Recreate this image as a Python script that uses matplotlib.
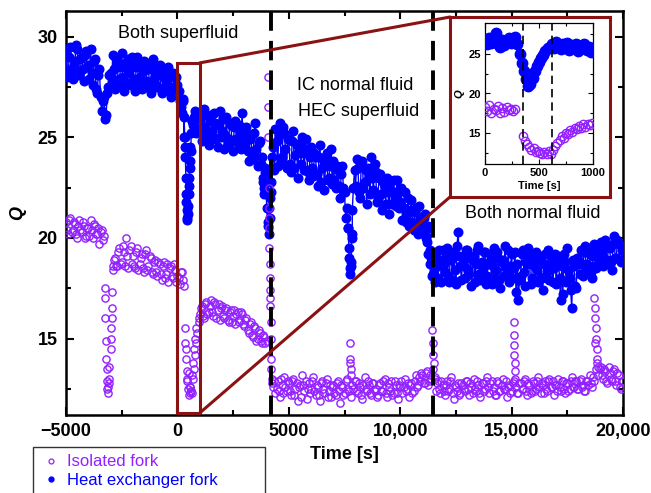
import matplotlib
matplotlib.use("Agg")
import matplotlib.pyplot as plt
from matplotlib.patches import Rectangle, ConnectionPatch
from matplotlib.lines import Line2D
import numpy as np

plt.rcParams['font.family'] = ['Liberation Sans', 'DejaVu Sans']

# ---------------- data ----------------
# main series, first pass sampled every 100 s from -5000 s to 20000 s
main_t = list(range(-5000, 20001, 100))
# second pass, offset by 50 s
main_t2 = list(range(-4950, 20000, 100))

blue_q = [
    29.2, 28.3, 29.5, 27.9, 28.8, 29.4, 28.1, 29.0, 27.8, 29.3,   # -5000
    28.6, 29.4, 27.6, 28.9, 27.2, 28.4, 26.3, 27.0, 26.1, 27.5,   # -4000
    28.2, 29.1, 27.4, 28.7, 27.9, 29.2, 27.3, 28.5, 28.9, 27.6,   # -3000
    28.6, 27.3, 29.0, 28.0, 27.4, 28.8, 27.8, 28.4, 27.2, 28.9,   # -2000
    28.1, 27.5, 28.6, 27.2, 28.3, 27.7, 28.5, 27.0, 28.2, 27.4,   # -1000
    27.6, 26.8, 26.2, 25.0, 21.8, 22.6, 24.3, 25.6, 26.3, 25.4,   # 0
    25.9, 24.8, 26.4, 25.2, 24.6, 26.1, 25.0, 25.7, 24.5, 26.3,   # 1000
    25.3, 24.4, 26.0, 24.9, 25.6, 24.3, 25.8, 24.7, 25.2, 26.2,   # 2000
    24.6, 25.5, 23.8, 25.1, 24.2, 25.7, 23.6, 24.8, 24.0, 22.5,   # 3000
    23.2, 21.5, 22.8, 24.5, 25.4, 23.6, 25.7, 24.0, 25.2, 23.5,   # 4000
    24.9, 23.3, 25.3, 24.1, 23.0, 24.7, 25.0, 23.4, 24.4, 22.9,   # 5000
    24.5, 23.1, 24.0, 22.6, 24.6, 23.5, 22.4, 24.2, 23.0, 24.4,   # 6000
    23.8, 22.5, 23.4, 22.0, 23.6, 22.3, 21.5, 19.5, 18.6, 22.5,   # 7000
    22.6, 23.5, 22.0, 23.8, 22.8, 21.7, 23.2, 24.0, 22.4, 23.3,   # 8000
    22.0, 23.2, 21.4, 22.6, 23.0, 21.2, 22.4, 22.9, 21.6, 22.3,   # 9000
    21.8, 20.9, 22.3, 21.2, 20.6, 21.9, 20.4, 21.5, 20.2, 21.0,   # 10000
    20.3, 21.2, 19.8, 20.5, 19.0, 18.4, 19.3, 18.0, 18.9, 19.4,   # 11000
    18.3, 19.5, 17.8, 18.9, 19.2, 17.7, 20.3, 18.6, 19.0, 18.0,   # 12000
    19.4, 18.2, 17.6, 19.1, 18.7, 19.6, 17.9, 18.5, 19.3, 18.1,   # 13000
    18.8, 17.7, 19.5, 18.4, 19.0, 17.5, 18.9, 19.6, 18.2, 17.8,   # 14000
    19.2, 18.5, 17.3, 16.9, 18.1, 19.4, 17.6, 18.7, 19.1, 18.0,   # 15000
    18.6, 19.3, 17.8, 18.9, 17.4, 19.2, 18.3, 17.9, 19.0, 18.5,   # 16000
    17.7, 19.1, 16.9, 17.2, 18.8, 19.5, 18.0, 16.5, 18.6, 17.5,   # 17000
    18.9, 19.4, 18.1, 19.6, 18.7, 19.2, 18.0, 19.7, 18.5, 19.3,   # 18000
    19.8, 18.6, 19.9, 18.9, 19.5, 18.4, 20.1, 19.0, 19.7, 18.8,   # 19000
    19.6,                                                         # 20000
]
blue_q2 = [
    28.0, 29.0, 28.4, 28.6, 29.6, 28.2, 28.9, 28.4, 29.1, 28.5,   # -4950
    27.9, 28.2, 28.8, 27.4, 28.1, 27.0, 26.8, 25.9, 27.2, 28.1,   # -3950
    27.8, 28.4, 28.9, 27.6, 28.5, 28.0, 28.7, 27.7, 28.2, 29.0,   # -2950
    27.9, 28.5, 27.6, 28.7, 28.3, 27.5, 28.4, 27.6, 28.6, 27.9,   # -1950
    27.6, 28.4, 27.4, 28.0, 27.5, 28.4, 27.3, 28.0, 27.5, 28.0,   # -950
    27.3, 26.5, 26.8, 24.5, 21.0, 23.5, 25.8, 26.0, 25.2, 26.0,   # 50
    25.3, 26.1, 25.5, 24.9, 25.8, 25.3, 26.2, 24.9, 25.6, 25.0,   # 1050
    25.9, 25.1, 24.6, 25.7, 24.8, 25.5, 24.9, 25.6, 24.4, 25.0,   # 2050
    25.3, 24.3, 24.9, 23.9, 25.2, 24.4, 24.7, 23.7, 22.8, 23.3,   # 3050
    20.8, 22.0, 24.0, 23.4, 24.8, 25.1, 23.8, 25.5, 24.4, 24.9,   # 4050
    23.7, 24.8, 23.5, 24.6, 24.3, 23.7, 24.2, 24.9, 23.3, 24.0,   # 5050
    23.5, 24.2, 23.2, 24.0, 22.8, 23.9, 23.8, 22.9, 23.6, 22.7,   # 6050
    22.9, 23.6, 22.6, 23.2, 22.5, 21.0, 20.5, 18.5, 20.0, 23.4,   # 7050
    23.9, 22.3, 23.6, 22.5, 23.4, 23.5, 22.2, 23.0, 23.7, 21.8,   # 8050
    23.0, 22.2, 22.8, 21.7, 22.3, 22.8, 21.7, 22.0, 22.9, 21.5,   # 9050
    22.5, 21.5, 20.8, 22.0, 21.4, 20.8, 21.3, 20.6, 21.6, 20.6,   # 10050
    21.0, 20.1, 20.6, 19.4, 18.2, 17.8, 18.6, 19.4, 17.8, 18.7,   # 11050
    19.0, 18.1, 19.3, 17.9, 18.4, 19.6, 19.1, 17.9, 18.6, 19.4,   # 12050
    18.4, 19.0, 18.9, 17.8, 19.4, 18.2, 18.8, 19.3, 17.7, 18.7,   # 13050
    19.2, 18.6, 18.0, 19.3, 17.9, 18.8, 18.1, 18.5, 19.4, 18.6,   # 14050
    18.0, 19.3, 18.7, 17.9, 19.2, 18.3, 18.8, 19.5, 17.7, 18.9,   # 15050
    17.9, 18.4, 19.1, 18.0, 18.7, 18.1, 19.4, 18.6, 17.8, 19.2,   # 16050
    18.8, 18.0, 18.6, 19.2, 17.8, 18.4, 17.4, 18.9, 17.6, 19.0,   # 17050
    18.2, 18.7, 19.3, 18.4, 19.5, 18.3, 19.1, 18.6, 19.6, 18.9,   # 18050
    19.2, 19.5, 18.7, 19.6, 18.8, 19.7, 19.0, 19.9, 18.9, 19.4,   # 19050
]

purple_q = [
    20.8, 20.2, 21.0, 20.4, 20.7, 20.0, 20.9, 20.3, 20.6, 20.1,   # -5000
    20.5, 20.9, 20.0, 20.6, 20.2, 19.7, 20.4, 20.1, 14.0, 12.6,   # -4000
    15.0, 18.4, 19.0, 18.6, 19.5, 18.8, 19.3, 20.0, 18.5, 19.6,   # -3000
    19.1, 18.5, 19.5, 18.7, 19.2, 18.3, 19.4, 18.6, 19.0, 18.2,   # -2000
    18.9, 18.1, 18.7, 17.9, 18.8, 18.2, 17.8, 18.6, 18.0, 18.4,   # -1000
    18.1, 17.7, 18.3, 17.6, 14.5, 13.3, 12.4, 13.0, 14.2, 15.3,   # 0
    16.2, 16.6, 16.0, 16.8, 16.3, 16.9, 16.1, 16.7, 16.4, 15.9,   # 1000
    16.6, 16.0, 16.5, 15.8, 16.4, 16.1, 15.7, 16.3, 15.9, 16.2,   # 2000
    15.6, 16.0, 15.3, 15.8, 15.1, 15.5, 15.0, 15.3, 14.8, 15.1,   # 3000
    14.9, 21.0, 14.0, 12.6, 12.3, 12.9, 12.1, 12.7, 13.1, 12.4,   # 4000
    12.8, 12.2, 13.0, 12.5, 11.9, 12.7, 13.2, 12.4, 12.0, 12.8,   # 5000
    12.5, 13.1, 12.2, 12.6, 11.9, 12.9, 12.3, 13.0, 12.4, 12.1,   # 6000
    12.7, 12.2, 12.9, 11.8, 12.6, 12.3, 13.0, 12.4, 12.1, 12.5,   # 7000
    12.9, 12.3, 12.6, 12.0, 13.1, 12.4, 12.7, 12.2, 12.8, 12.5,   # 8000
    12.2, 12.8, 12.4, 13.0, 12.1, 12.6, 12.9, 12.3, 12.7, 12.0,   # 9000
    12.6, 12.3, 13.0, 12.5, 12.1, 12.8, 12.4, 13.2, 12.7, 12.9,   # 10000
    13.2, 12.8, 13.4, 12.9, 13.0, 13.8, 12.4, 12.9, 12.3, 12.7,   # 11000
    12.2, 12.9, 12.5, 13.1, 12.0, 12.6, 12.8, 12.3, 12.7, 12.4,   # 12000
    12.9, 12.2, 12.6, 13.0, 12.4, 12.7, 12.1, 12.8, 12.5, 13.1,   # 13000
    12.3, 12.9, 12.6, 12.2, 12.8, 12.4, 13.0, 12.5, 12.1, 12.7,   # 14000
    12.4, 12.9, 12.6, 12.3, 12.8, 12.5, 13.0, 12.2, 12.7, 12.4,   # 15000
    12.8, 12.5, 13.1, 12.3, 12.7, 12.9, 12.4, 13.0, 12.6, 12.2,   # 16000
    12.7, 13.0, 12.4, 12.9, 12.3, 12.8, 12.5, 13.1, 12.6, 12.9,   # 17000
    12.5, 13.0, 12.7, 12.4, 12.9, 13.2, 12.6, 12.9, 13.5, 13.2,   # 18000
    13.6, 13.0, 13.4, 12.8, 13.3, 12.9, 13.5, 12.7, 13.2, 12.5,   # 19000
    12.9,                                                         # 20000
]
purple_q2 = [
    20.4, 20.9, 20.3, 20.8, 20.2, 20.6, 20.4, 20.8, 20.0, 20.5,   # -4950
    20.1, 20.4, 20.7, 20.2, 20.5, 20.3, 19.9, 17.0, 12.5, 13.0,   # -3950
    16.0, 18.9, 18.6, 19.3, 18.7, 19.6, 18.6, 19.1, 19.4, 18.7,   # -2950
    18.6, 19.3, 18.4, 19.0, 18.5, 19.2, 18.4, 19.1, 18.3, 18.8,   # -1950
    18.3, 18.8, 18.2, 18.6, 18.0, 18.7, 18.5, 18.1, 18.7, 17.8,   # -950
    18.0, 18.3, 17.9, 15.5, 13.0, 12.6, 12.3, 13.5, 14.8, 15.8,   # 50
    16.5, 16.1, 16.7, 16.2, 16.6, 16.3, 16.8, 16.0, 16.7, 16.5,   # 1050
    16.1, 16.4, 15.9, 16.3, 15.8, 16.4, 16.2, 15.8, 16.3, 15.7,   # 2050
    15.9, 15.4, 15.7, 15.2, 15.6, 14.9, 15.4, 14.9, 15.2, 14.8,   # 3050
    26.5, 17.0, 12.8, 12.9, 12.5, 12.4, 13.0, 12.3, 12.6, 12.9,   # 4050
    12.4, 12.9, 12.2, 12.8, 12.6, 12.1, 12.7, 12.9, 12.5, 12.3,   # 5050
    12.9, 12.4, 12.7, 12.2, 12.8, 12.5, 12.8, 12.1, 12.7, 12.6,   # 6050
    12.3, 12.8, 12.4, 12.7, 12.2, 12.9, 12.5, 13.8, 12.7, 12.9,   # 7050
    12.4, 12.8, 12.2, 12.7, 12.5, 12.9, 12.3, 12.8, 12.4, 12.1,   # 8050
    12.7, 12.4, 12.9, 12.3, 12.8, 12.4, 12.2, 12.9, 12.3, 12.7,   # 9050
    12.9, 12.6, 12.4, 12.8, 12.7, 12.3, 12.9, 12.6, 13.1, 13.3,   # 10050
    12.8, 13.3, 12.7, 13.2, 13.5, 13.0, 12.8, 12.5, 12.9, 12.4,   # 11050
    12.7, 12.4, 12.9, 12.3, 12.7, 12.4, 12.2, 12.8, 12.5, 12.9,   # 12050
    12.5, 12.8, 12.3, 12.5, 12.9, 12.3, 12.8, 12.4, 12.9, 12.6,   # 13050
    12.8, 12.4, 12.2, 12.9, 12.4, 12.7, 12.5, 12.9, 12.6, 12.3,   # 14050
    12.8, 13.0, 12.3, 12.8, 12.5, 12.9, 12.4, 12.8, 12.3, 12.9,   # 15050
    12.4, 12.9, 12.6, 12.8, 12.3, 12.5, 12.9, 12.6, 12.9, 12.7,   # 16050
    12.4, 12.6, 12.9, 12.5, 12.8, 12.4, 12.9, 12.6, 12.9, 12.5,   # 17050
    12.9, 12.6, 12.4, 12.9, 12.7, 12.8, 13.1, 14.8, 13.8, 13.5,   # 18050
    13.2, 13.5, 12.9, 13.6, 13.0, 13.4, 12.9, 13.3, 12.6, 12.9,   # 19050
]

# extra samples in fast transients (dips and spikes)
blue_extra_t = [250, 300, 330, 360, 380, 400, 420, 440, 460, 480, 520, 540, 560, 580, 620, 650,
                3850, 3900, 3950, 4000, 4050, 4100, 4150, 4200, 4250,
                7650, 7700, 7750, 7780, 7820, 7850,
                11150, 11250, 11350, 11420, 11480]
blue_extra_q = [26.9, 26.0, 25.0, 24.0, 23.0, 22.2, 21.4, 20.9, 21.2, 21.6, 22.2, 23.0, 23.8, 24.5, 25.2, 25.8,
                23.0, 22.2, 23.5, 21.5, 20.6, 20.2, 21.0, 22.3, 23.5,
                20.5, 19.0, 18.2, 18.8, 20.2, 21.4,
                20.0, 19.2, 18.7, 18.1, 19.0]

purple_extra_t = [-3250, -3230, -3210, -3180, -3150, -3120, -3080, -3050, -3000, -2970, -2950, -2930, -2880,
                  350, 380, 420, 450, 480, 520, 550, 580, 620, 660, 700, 750, 800, 850, 950,
                  4050, 4080, 4100, 4110, 4120, 4130, 4140, 4150, 4160, 4170, 4180, 4190, 4220, 4240,
                  7740, 7760, 7780, 7800,
                  11430, 11450, 11470, 11550,
                  15100, 15110, 15120, 15130, 15140, 15160,
                  18720, 18740, 18760, 18780, 18800, 18820, 18840, 18860]
purple_extra_q = [17.5, 16.0, 14.9, 13.5, 12.9, 12.3, 12.8, 13.6, 14.5, 15.5, 16.5, 17.3, 18.6,
                  14.8, 14.0, 13.4, 12.9, 12.5, 12.2, 12.6, 12.3, 12.4, 13.2, 13.8, 14.5, 15.0, 15.5, 16.0,
                  28.0, 25.0, 22.5, 21.5, 20.5, 19.5, 18.7, 18.0, 17.4, 16.6, 15.8, 15.0, 13.5, 13.0,
                  14.8, 14.0, 13.5, 13.2,
                  15.4, 14.8, 14.2, 13.1,
                  15.8, 15.2, 14.7, 14.2, 13.8, 13.4,
                  17.0, 16.5, 16.0, 15.5, 15.0, 14.5, 14.0, 13.6]

# inset (zoom on 0-1000 s)
inset_blue_t = list(range(0, 1001, 20))
inset_blue_q = [26.8, 26.2, 27.0, 26.4, 26.9, 27.6, 26.3, 25.9, 26.7, 26.1, 26.5, 27.0, 26.4, 26.8, 27.1,
                26.2, 25.0, 23.8, 22.8, 21.8, 21.0, 21.2, 22.0, 22.8, 23.5, 24.0, 24.5, 24.9, 25.4, 25.8, 25.9,
                26.2, 25.8, 26.5, 26.0, 25.6, 26.3, 25.9, 26.4, 25.5, 26.1, 25.8, 26.3, 25.4, 26.0, 25.7,
                26.2, 25.5, 25.9, 25.3, 25.8]
inset_purple_t = [0, 20, 40, 60, 80, 100, 120, 140, 160, 180, 200, 220, 240, 260, 280,
                  350, 370, 390, 410, 430, 450, 470, 490, 510, 530, 550, 570, 590, 610,
                  630, 650, 670, 690, 710, 730, 750, 770, 790, 810, 830, 850, 870, 890, 910, 930, 950, 970, 990]
inset_purple_q = [18.3, 17.8, 18.5, 17.6, 18.1, 17.9, 18.4, 17.5, 18.2, 17.7, 18.3, 17.9, 18.1, 17.8, 18.0,
                  14.6, 14.0, 13.6, 13.2, 12.9, 13.1, 12.6, 12.8, 12.5, 12.3, 12.6, 12.4, 12.7, 12.3,
                  12.9, 13.4, 13.8, 14.1, 14.6, 14.4, 15.0, 14.9, 15.4, 15.2, 15.7, 15.5, 15.9, 15.7, 16.1,
                  15.8, 16.2, 16.0, 16.3]

transitions = [4200, 11450]
inset_transitions = [350, 620]

x_ticks = [-5000, 0, 5000, 10000, 15000, 20000]
x_tick_labels = ['\u22125000', '0', '5000', '10,000', '15,000', '20,000']
y_ticks = [15, 20, 25, 30]

series_labels = ['Isolated fork', 'Heat exchanger fork']

BLUE = '#0000ff'
PURPLE = '#9320ff'
DARKRED = '#8b1212'

# merge all samples of each series in time order
bt = np.array(main_t + main_t2 + blue_extra_t)
bq = np.array(blue_q + blue_q2 + blue_extra_q)
o = np.argsort(bt, kind='stable'); bt, bq = bt[o], bq[o]
pt = np.array(main_t + main_t2 + purple_extra_t)
pq = np.array(purple_q + purple_q2 + purple_extra_q)
o = np.argsort(pt, kind='stable'); pt, pq = pt[o], pq[o]

# ---------------- figure ----------------
fig = plt.figure(figsize=(6.51, 4.93), dpi=100)
ax = fig.add_axes([66/651, 1 - 415/493, 557/651, 404/493])

ax.plot(bt, bq, color=BLUE, lw=1.0, marker='o', ms=6.2, mfc=BLUE, mec=BLUE, zorder=3)
ax.plot(pt, pq, ls='none', marker='o', ms=5.2, mfc='none', mec=PURPLE, mew=1.0, zorder=4)

for xv in transitions:
    ax.axvline(xv, color='black', lw=2.8, dashes=(5, 2.6), zorder=5)

ax.set_xlim(-5000, 20000)
ax.set_ylim(11.2, 31.28)
ax.set_xticks(x_ticks)
ax.set_xticklabels(x_tick_labels)
ax.set_yticks(y_ticks)
ax.set_xticks([-2500, 2500, 7500, 12500, 17500], minor=True)
ax.set_yticks([12.5, 17.5, 22.5, 27.5], minor=True)
ax.tick_params(which='both', direction='in', top=True, right=True, width=1.5)
ax.tick_params(which='major', length=6, labelsize=13, pad=6)
ax.tick_params(which='minor', length=3.5)
for lab in ax.get_xticklabels() + ax.get_yticklabels():
    lab.set_fontweight('bold')
for s in ax.spines.values():
    s.set_linewidth(1.8)

ax.set_xlabel('Time [s]', fontsize=13, fontweight='bold', labelpad=4)
ax.set_ylabel('Q', fontsize=13, fontweight='bold', fontstyle='italic', labelpad=8)

ax.text((178.5 - 66) / 557, (415 - 33) / 404, 'Both superfluid', transform=ax.transAxes,
        ha='center', va='center', fontsize=13)
ax.text((355 - 66) / 557, (415 - 85) / 404, 'IC normal fluid', transform=ax.transAxes,
        ha='center', va='center', fontsize=13)
ax.text((359 - 66) / 557, (415 - 112) / 404, 'HEC superfluid', transform=ax.transAxes,
        ha='center', va='center', fontsize=13)
ax.text((533 - 66) / 557, (415 - 214) / 404, 'Both normal fluid', transform=ax.transAxes,
        ha='center', va='center', fontsize=13)

# zoom rectangle
rect_y0, rect_y1 = 11.3, 28.7
ax.add_patch(Rectangle((0, rect_y0), 1000, rect_y1 - rect_y0, fill=False,
                       edgecolor=DARKRED, lw=2.2, zorder=6))

# inset frame
fx0, fy0, fx1, fy1 = 450/651, 1 - 197/493, 610/651, 1 - 17/493
frame = fig.add_axes([fx0, fy0, fx1 - fx0, fy1 - fy0], zorder=10)
frame.set_xticks([]); frame.set_yticks([])
frame.set_facecolor('white')
for s in frame.spines.values():
    s.set_edgecolor(DARKRED); s.set_linewidth(2.2)

for (ya, fyb) in [(rect_y1, fy1), (rect_y0, fy0)]:
    cp = ConnectionPatch(xyA=(1000, ya), coordsA=ax.transData,
                         xyB=(fx0, fyb), coordsB=fig.transFigure,
                         color=DARKRED, lw=2.2, zorder=7)
    fig.add_artist(cp)

ins = fig.add_axes([485/651, 1 - 164/493, 108/651, 141/493], zorder=11)
ins.plot(inset_blue_t, inset_blue_q, color=BLUE, lw=3.5, marker='o', ms=7.5, mfc=BLUE, mec=BLUE, zorder=3)
ins.plot(inset_purple_t, inset_purple_q, ls='none', marker='o', ms=6, mfc='none', mec=PURPLE, mew=1.0, zorder=4)
for xv in inset_transitions:
    ins.axvline(xv, color='black', lw=1.2, dashes=(5, 3), zorder=5)
ins.set_xlim(0, 1000)
ins.set_ylim(11.1, 28.9)
ins.set_xticks([0, 500, 1000])
ins.set_yticks([15, 20, 25])
ins.set_xticks([250, 750], minor=True)
ins.set_yticks([12.5, 17.5, 22.5, 27.5], minor=True)
ins.tick_params(which='both', direction='in', top=True, right=True, width=0.8)
ins.tick_params(which='major', length=3.5, labelsize=8, pad=3)
ins.tick_params(which='minor', length=2)
for lab in ins.get_xticklabels() + ins.get_yticklabels():
    lab.set_fontweight('bold')
for s in ins.spines.values():
    s.set_linewidth(0.9)
ins.set_xlabel('Time [s]', fontsize=8, fontweight='bold', labelpad=2)
ins.set_ylabel('Q', fontsize=8, fontweight='bold', fontstyle='italic', labelpad=3)

# legend
handles = [Line2D([], [], ls='none', marker='o', ms=3.5, mfc='none', mec=PURPLE, mew=0.9),
           Line2D([], [], ls='none', marker='o', ms=3.5, mfc=BLUE, mec=BLUE)]
leg = fig.legend(handles, series_labels, loc='upper left',
                 bbox_to_anchor=(33/651, 0, 232/651, 1 - 447/493), mode='expand',
                 fontsize=12, frameon=True, fancybox=False, edgecolor='black',
                 handlelength=1.3, handletextpad=0.3, borderpad=0.45, labelspacing=0.22,
                 borderaxespad=0)
leg.get_frame().set_linewidth(1.0)
for txt, c in zip(leg.get_texts(), [PURPLE, BLUE]):
    txt.set_color(c)

fig.savefig('out.png', dpi=100)
